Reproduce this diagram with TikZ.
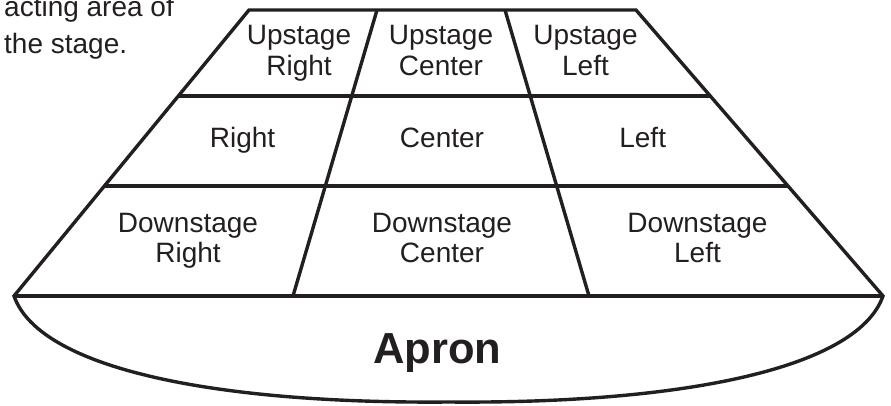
\documentclass[tikz,border=0pt]{standalone}
\usepackage{fontspec}
\setmainfont{Liberation Sans}
\usetikzlibrary{calc}
\definecolor{ink}{HTML}{231F20}
\tikzset{
  stageline/.style={draw=ink, line width=3.4pt, line join=miter},
  celltext/.style={text=ink, align=center, inner sep=0pt,
    font=\fontsize{28}{30.5}\selectfont},
  apron/.style={text=ink, inner sep=0pt, font=\fontsize{43.5}{50}\selectfont\bfseries},
  note/.style={text=ink, align=left, inner sep=0pt, font=\fontsize{28}{36.6}\selectfont}
}
\begin{document}
\begin{tikzpicture}[x=1pt,y=-1pt]
\useasboundingbox (0,0) rectangle (891,406);
% corners
\coordinate (TL) at (249,10);
\coordinate (TR) at (636,10);
\coordinate (BL) at (14,296);
\coordinate (BR) at (883,296);
\coordinate (AB) at (448.5,402);
\coordinate (D1T) at (377,10);
\coordinate (D1B) at (293,296);
\coordinate (D2T) at (505,10);
\coordinate (D2B) at (589,296);
\coordinate (R1L) at ($(TL)!0.3007!(BL)$);
\coordinate (R1R) at ($(TR)!0.3007!(BR)$);
\coordinate (R2L) at ($(TL)!0.6154!(BL)$);
\coordinate (R2R) at ($(TR)!0.6154!(BR)$);
% outline with apron
\draw[stageline] (TL) -- (TR) -- (BR)
  .. controls (857,370) and (677,404) .. (AB)
  .. controls (220,404) and (40,370) .. (BL) -- cycle;
\draw[stageline] (R1L) -- (R1R);
\draw[stageline] (R2L) -- (R2R);
\draw[stageline] (BL) -- (BR);
\draw[stageline] (D1T) -- (D1B);
\draw[stageline] (D2T) -- (D2B);
% labels
\node[celltext] (usr) at (299,53.8) {Upstage\strut\\Right\strut};
\node[celltext] (usc) at (441,53.8) {Upstage\strut\\Center\strut};
\node[celltext] (usl) at (585.5,53.8) {Upstage\strut\\Left\strut};
\node[celltext, anchor=base] (r) at (242.5,147.3) {Right};
\node[celltext, anchor=base] (c) at (442,147.3) {Center};
\node[celltext, anchor=base] (l) at (642.7,147.3) {Left};
\node[celltext] (dsr) at (188,241.5) {Downstage\strut\\Right\strut};
\node[celltext] (dsc) at (442,241.5) {Downstage\strut\\Center\strut};
\node[celltext] (dsl) at (697.5,241.5) {Downstage\strut\\Left\strut};
\node[apron, anchor=base] (ap) at (437.5,363.3) {Apron};
\node[note, anchor=west] (nt) at (4,27.7) {acting area of\strut\\the stage.\strut};
\end{tikzpicture}
\end{document}
